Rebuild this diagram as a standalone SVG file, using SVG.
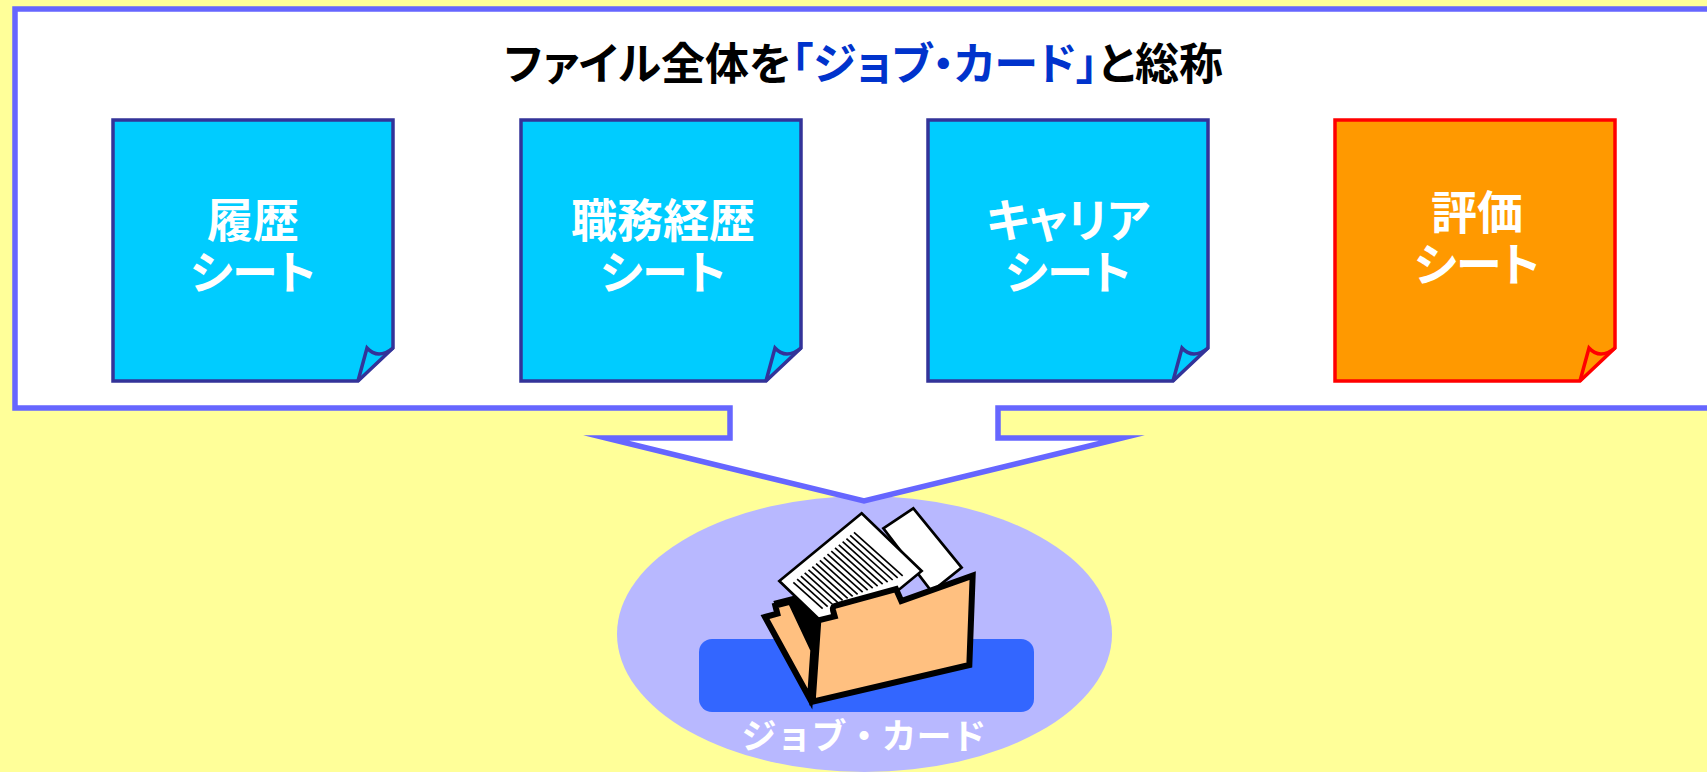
<svg xmlns="http://www.w3.org/2000/svg" width="1707" height="772" viewBox="0 0 1707 772">
  <defs>
    <style>
      .jp { font-family: "Noto Sans CJK JP", "Noto Sans", sans-serif; font-weight: bold; }
      .prop { font-feature-settings: "palt" 1; }
      .title { font-size: 44px; fill: #000000; text-anchor: middle; }
      .hl { fill: #0033CC; }
      .label { font-size: 46px; fill: #FFFFFF; text-anchor: middle; }
      .card-label { font-size: 35px; fill: #FFFFFF; text-anchor: middle; }
      .callout { fill: #FFFFFF; stroke: #6666FF; stroke-width: 5.5; stroke-linejoin: miter; stroke-miterlimit: 12; }
      .sheet-blue { fill: #00CCFF; stroke: #333399; }
      .sheet-orange { fill: #FF9900; stroke: #FF0000; }
      .sheet-body { stroke-width: 3.5; stroke-linejoin: miter; }
      .curl { fill: none; stroke-width: 3.5; stroke-linejoin: miter; }
      .curl-edge { fill: none; stroke-width: 2; }
      .paper { fill: #FFFFFF; stroke: #000000; stroke-width: 8; stroke-linejoin: miter; }
      .text-lines line { stroke: #000000; stroke-width: 5; }
      .folder { fill: #FFC080; stroke: #000000; stroke-width: 18; stroke-linejoin: miter; }
    </style>
    <!-- sticky sheet with a curled lower-right corner, 280 x 261 -->
    <g id="sheet">
      <path class="sheet-body" d="M0,0 H280 V228 L245,261 H0 Z"/>
      <path class="curl" d="M245,261 L254,228 Q265,240 280,228"/>
      <path class="curl-edge" d="M280,228 L245,261"/>
    </g>
  </defs>

  <!-- page background -->
  <rect x="0" y="0" width="1707" height="772" fill="#FFFF99"/>

  <!-- job card disc -->
  <g id="job-card">
    <ellipse cx="864.5" cy="634" rx="247.5" ry="138" fill="#B8B8FF"/>
    <rect x="699" y="639" width="335" height="73" rx="13" ry="13" fill="#3366FF"/>
    <text class="jp card-label" x="864" y="749">ジョブ・カード</text>

    <!-- open folder with documents -->
    <g id="folder-icon" transform="translate(760 495) scale(0.33333)">
      <polygon class="paper" points="370,100 460,40 605,218 515,290"/>
      <polygon points="40,318 110,300 228,335 228,372 185,382 162,470 150,620" fill="#000000"/>
      <path class="folder" d="M15,366 L52,356 L46,332 L92,320 L160,465 L150,612 Z"/>
      <polygon class="paper" points="58,258 305,55 485,228 238,431"/>
      <g class="text-lines">
        <line x1="282" y1="112" x2="428" y2="242.7"/>
        <line x1="270.6" y1="121.4" x2="413" y2="248.9"/>
        <line x1="259.3" y1="130.8" x2="398.1" y2="255"/>
        <line x1="247.9" y1="140.1" x2="383" y2="261.1"/>
        <line x1="236.5" y1="149.5" x2="368" y2="267.2"/>
        <line x1="225.1" y1="158.9" x2="352.9" y2="273.4"/>
        <line x1="213.8" y1="168.3" x2="338.1" y2="279.6"/>
        <line x1="202.4" y1="177.6" x2="323" y2="285.6"/>
        <line x1="191" y1="187" x2="308" y2="291.7"/>
        <line x1="179.6" y1="196.4" x2="292.9" y2="297.8"/>
        <line x1="168.3" y1="205.8" x2="278" y2="304"/>
        <line x1="156.9" y1="215.1" x2="263" y2="310.1"/>
        <line x1="145.5" y1="224.5" x2="247.9" y2="316.2"/>
        <line x1="134.1" y1="233.9" x2="232.9" y2="322.3"/>
        <line x1="122.8" y1="243.3" x2="218" y2="328.5"/>
        <line x1="111.4" y1="252.6" x2="203" y2="334.6"/>
        <line x1="100" y1="262" x2="187.9" y2="340.7"/>
      </g>
      <path class="folder" d="M175,376 L224,364 L219,346 Q216,334 230,331 L408,282 L424,318 L638,242 L628,510 L158,620 Z"/>
    </g>
  </g>

  <!-- callout frame whose wedge points down at the job card -->
  <g id="connectors">
    <path id="callout" class="callout" d="M15,9 H1720 V408 H998 V438 H1122 L864,501 L606,438 H730 V408 H15 Z"/>
  </g>

  <!-- heading -->
  <g id="heading">
    <text class="jp prop title" x="863.5" y="79.5">ファイル全体を<tspan class="hl">「ジョブ・カード」</tspan>と総称</text>
  </g>

  <!-- sheets -->
  <g id="sheet-rireki">
    <use href="#sheet" x="113" y="120" class="sheet-blue"/>
    <text class="jp prop label"><tspan x="253" y="237">履歴</tspan><tspan x="253" y="289">シート</tspan></text>
  </g>
  <g id="sheet-shokumu">
    <use href="#sheet" x="521" y="120" class="sheet-blue"/>
    <text class="jp prop label"><tspan x="663" y="237">職務経歴</tspan><tspan x="663" y="289">シート</tspan></text>
  </g>
  <g id="sheet-career">
    <use href="#sheet" x="928" y="120" class="sheet-blue"/>
    <text class="jp prop label"><tspan x="1068" y="237">キャリア</tspan><tspan x="1068" y="289">シート</tspan></text>
  </g>
  <g id="sheet-hyoka">
    <use href="#sheet" x="1335" y="120" class="sheet-orange"/>
    <text class="jp prop label"><tspan x="1477" y="229">評価</tspan><tspan x="1477" y="281">シート</tspan></text>
  </g>
</svg>
